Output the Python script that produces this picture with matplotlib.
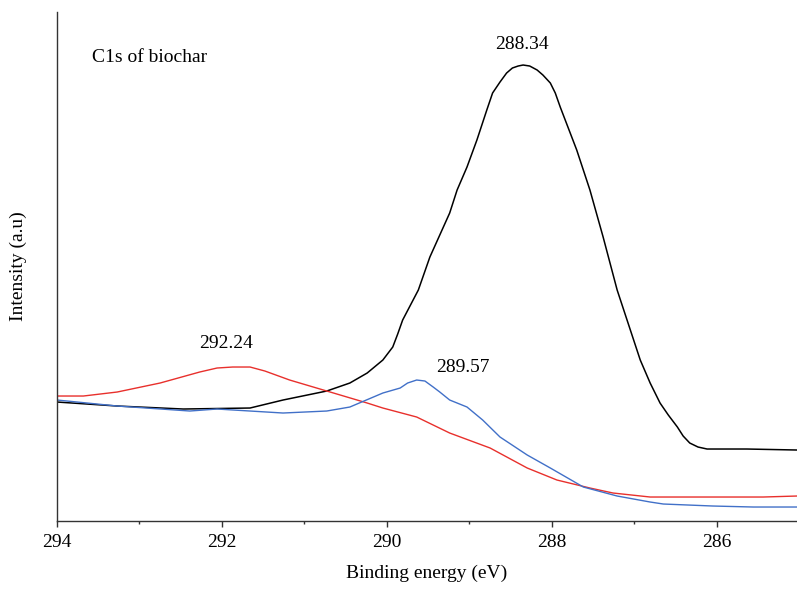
import matplotlib
matplotlib.use("Agg")
import matplotlib.pyplot as plt
from matplotlib.ticker import MultipleLocator

plt.rcParams["font.family"] = ["Liberation Serif", "DejaVu Serif"]

# binding energy (eV) and intensity (a.u.)
black_e = [294.00, 293.27, 292.47, 291.66, 291.26, 290.73, 290.45, 290.24, 290.05, 289.93,
           289.87, 289.81, 289.62, 289.48, 289.24, 289.15, 289.03, 288.91, 288.79, 288.72,
           288.63, 288.55, 288.48, 288.41, 288.35, 288.27, 288.18, 288.11, 288.02, 287.96,
           287.90, 287.70, 287.54, 287.38, 287.21, 287.09, 286.93, 286.81, 286.69, 286.59,
           286.48, 286.41, 286.33, 286.23, 286.12, 285.64, 285.03]
black_i = [119, 115, 112, 113, 121, 130, 138, 148, 161, 174,
           187, 201, 231, 264, 308, 331, 354, 381, 411, 428,
           439, 448, 453, 455, 456, 455, 451, 446, 438, 428,
           414, 371, 331, 284, 231, 201, 161, 138, 118, 106,
           94, 85, 78, 74, 72, 72, 71]

red_e = [294.00, 293.68, 293.27, 292.75, 292.27, 292.06, 291.87, 291.66, 291.48, 291.18,
         290.73, 290.24, 290.05, 289.64, 289.24, 288.75, 288.30, 287.94, 287.54,
         287.26, 286.81, 286.05, 285.44, 285.03]
red_i = [125, 125, 129, 138, 149, 153, 154, 154, 150, 141,
         130, 118, 113, 104, 88, 73, 53, 41, 33,
         28, 24, 24, 24, 25]

blue_e = [294.00, 293.27, 292.39, 292.06, 291.26, 290.73, 290.45, 290.05, 289.84, 289.75,
          289.64, 289.54, 289.44, 289.36, 289.24, 289.03, 288.84, 288.63, 288.30, 288.02,
          287.62, 287.21, 286.81, 286.65, 286.05, 285.56, 285.03]
blue_i = [121, 115, 110, 112, 108, 110, 114, 128, 133, 138,
          141, 140, 134, 129, 121, 114, 101, 84, 66, 53,
          34, 25, 19, 17, 15, 14, 14]

peak_labels = ["288.34", "292.24", "289.57"]

fig = plt.figure(figsize=(7.97, 5.92), dpi=100)
ax = fig.add_axes([0.0715, 0.1199, 0.9285, 0.8598])

ax.plot(black_e, black_i, color="black", lw=1.1, solid_joinstyle="round")
ax.plot(red_e, red_i, color="#e8302c", lw=1.0, solid_joinstyle="round")
ax.plot(blue_e, blue_i, color="#4170c8", lw=1.0, solid_joinstyle="round")

ax.set_xlim(294, 285.03)
ax.set_ylim(0, 509)

ax.xaxis.set_major_locator(MultipleLocator(2))
ax.xaxis.set_minor_locator(MultipleLocator(1))
ax.tick_params(axis="x", which="major", length=4.5, width=1, labelsize=14, pad=5, color="#333333")
ax.tick_params(axis="x", which="minor", length=2.5, width=1, color="#333333")
ax.set_yticks([])

for s in ["top", "right"]:
    ax.spines[s].set_visible(False)
for s in ["left", "bottom"]:
    ax.spines[s].set_color("#333333")
    ax.spines[s].set_linewidth(1.0)

ax.set_xlabel("Binding energy (eV)", fontsize=14, labelpad=10)
ax.set_ylabel("Intensity (a.u)", fontsize=14)
ax.yaxis.set_label_coords(-0.04, 0.5)

ax.text(288.36, 477, peak_labels[0], fontsize=14, ha="center", va="center")
ax.text(291.95, 178, peak_labels[1], fontsize=14, ha="center", va="center")
ax.text(289.08, 154, peak_labels[2], fontsize=14, ha="center", va="center")
ax.text(293.58, 464, "C1s of biochar", fontsize=14, ha="left", va="center")

fig.savefig("out.png", dpi=100)
